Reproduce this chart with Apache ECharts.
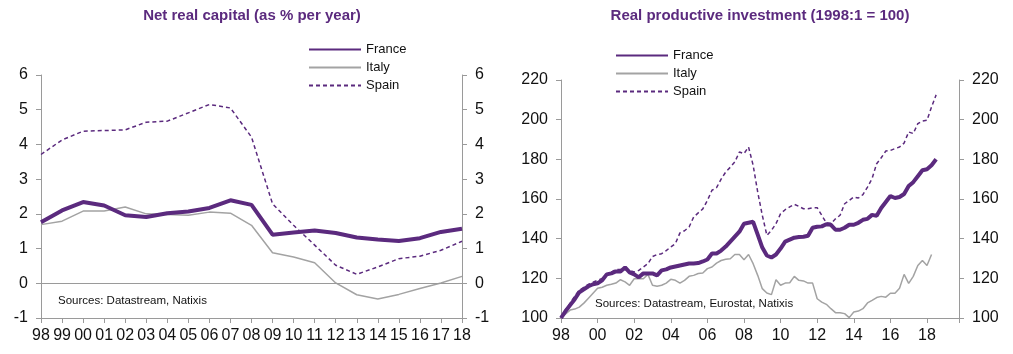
<!DOCTYPE html>
<html>
<head>
<meta charset="utf-8">
<script src="https://cdn.jsdelivr.net/npm/echarts@6/dist/echarts.min.js"></script>
<style>
  html, body { margin: 0; padding: 0; background: #fff; }
  #chart { width: 1013px; height: 354px; }
</style>
</head>
<body>
<div id="chart"></div>
<script>
// left panel: yearly, % per year
const yearsLeft = ['98', '99', '00', '01', '02', '03', '04', '05', '06', '07', '08', '09', '10', '11', '12', '13', '14', '15', '16', '17', '18'];
const franceNet = [1.76, 2.10, 2.34, 2.24, 1.96, 1.91, 2.02, 2.07, 2.17, 2.39, 2.26, 1.40, 1.46, 1.52, 1.45, 1.32, 1.26, 1.22, 1.30, 1.48, 1.57];
const italyNet = [1.69, 1.79, 2.08, 2.08, 2.20, 2.00, 1.98, 1.96, 2.05, 2.02, 1.67, 0.88, 0.76, 0.59, 0.01, -0.33, -0.45, -0.32, -0.15, 0.01, 0.20];
const spainNet = [3.71, 4.13, 4.38, 4.40, 4.42, 4.64, 4.67, 4.91, 5.15, 5.05, 4.21, 2.29, 1.67, 1.10, 0.52, 0.26, 0.47, 0.71, 0.78, 0.95, 1.21];

// right panel: quarterly from 1998Q1, index 1998:1 = 100
const startYear = 1998;
const franceInv = [
  100, 103.5, 106.5, 109.5, 113, 114.5, 116, 117, 117.5, 119, 122, 122.5,
  123.5, 123.5, 125.5, 123, 122, 120.5, 122.5, 122.5, 122.5, 121.5, 124, 124.5,
  125.5, 126, 126.5, 127, 127.5, 127.5, 127.7, 128.5, 129.5, 132.5, 132.5, 134,
  136, 138.5, 141, 143.5, 147.5, 148, 148.5, 142, 135.5, 131.5, 130.5, 132,
  135, 138.5, 139.5, 140.5, 140.8, 141, 141.5, 145.5, 146, 146.2, 147.3, 147,
  144.5, 144.5, 145.5, 147, 147, 148, 149.5, 150, 152, 151.5, 155.5, 158.5,
  161.5, 160.5, 161, 162.5, 166.5, 168.5, 171.5, 174.5, 175, 177, 180
];
const italyInv = [
  100, 102, 104, 104.5, 105.5, 107.5, 110, 112.5, 115, 115.5, 116.5, 117,
  117.6, 119.3, 118.2, 116.5, 119.8, 119.8, 119.8, 122, 116.5, 116, 116.5, 117.6,
  119.5, 119, 117.6, 119, 121, 121.5, 122.4, 122.7, 124.9, 125.7, 127.7, 129,
  129.6, 129.9, 132, 132, 129.4, 132, 127.4, 121.5, 114.8, 112.6, 111.8, 119.3,
  116.5, 117.6, 117.8, 121, 119, 118.7, 117.6, 117.6, 109.7, 108, 106.9, 104.7,
  102.7, 102.7, 102.2, 100.2, 103, 103.5, 104.7, 107.6, 108.9, 110.3, 110.9, 110.5,
  112.5, 112.5, 115, 122, 117.5, 121, 126.5, 129, 126.5, 132
];
const spainInv = [
  100, 104, 107.5, 111, 114, 115.5, 117, 118, 119, 120, 121.5, 123,
  124.5, 124.5, 124.4, 124, 123.2, 124, 125.7, 127.4, 131, 132, 132.4, 134,
  135.8, 137.5, 142.9, 144, 145.9, 150.9, 153, 155, 159.3, 164.4, 165.7, 170,
  173.6, 176, 178.7, 183.7, 182.9, 186.2, 177, 163.5, 151.8, 141.7, 144.2, 147.6,
  152.6, 154.6, 156, 157.3, 156.3, 155.1, 155.1, 155.6, 155.6, 151.8, 147.9, 147.6,
  150, 151.8, 157.6, 159.3, 161, 160.5, 162.2, 166, 170.3, 177.8, 180.8, 184.2,
  184.5, 185.4, 186.2, 188.2, 193.8, 193, 198, 199.3, 199.7, 206.4, 212.5
];

const purple = '#5b2a7e';
const grey = '#a3a3a3';
const axisGrey = '#9a9a9a';
const font = 'Liberation Sans, Arial, sans-serif';

const quarterly = arr => arr.map((v, i) => [startYear + i / 4, v]);

const chart = echarts.init(document.getElementById('chart'));

const yAxisBase = {
  type: 'value',
  axisLine: { show: true, lineStyle: { color: axisGrey, width: 1 } },
  axisTick: { show: true, length: 5, lineStyle: { color: axisGrey } },
  splitLine: { show: false },
  axisLabel: { color: '#111', fontSize: 16, fontFamily: font, margin: 13 }
};

const legendBase = {
  orient: 'vertical',
  itemWidth: 52,
  itemHeight: 14,
  itemGap: 5,
  selectedMode: false,
  itemStyle: { opacity: 0 },
  textStyle: { color: '#111', fontSize: 13, fontFamily: font },
  data: ['France', 'Italy', 'Spain']
};

chart.setOption({
  animation: false,
  title: [
    {
      text: 'Net real capital (as % per year)',
      left: 247, top: 3, textAlign: 'center',
      textStyle: { color: purple, fontSize: 15, fontWeight: 'bold', fontFamily: font }
    },
    {
      text: 'Real productive investment (1998:1 = 100)',
      left: 755, top: 3, textAlign: 'center',
      textStyle: { color: purple, fontSize: 15, fontWeight: 'bold', fontFamily: font }
    }
  ],
  legend: [
    Object.assign({ left: 303, top: 38 }, legendBase),
    Object.assign({ left: 610, top: 44 }, legendBase)
  ],
  graphic: [
    {
      type: 'text', left: 58, top: 295,
      style: { text: 'Sources: Datastream, Natixis', fill: '#111', fontSize: 11.5, fontFamily: font }
    },
    {
      type: 'text', left: 595, top: 298,
      style: { text: 'Sources: Datastream, Eurostat, Natixis', fill: '#111', fontSize: 11.5, fontFamily: font }
    }
  ],
  grid: [
    { left: 41, right: 551, top: 75, bottom: 36 },
    { left: 561, right: 54, top: 80, bottom: 36 }
  ],
  xAxis: [
    {
      gridIndex: 0,
      type: 'category',
      data: yearsLeft,
      boundaryGap: false,
      axisLine: { onZero: false, lineStyle: { color: axisGrey } },
      axisTick: { show: true, length: 5, interval: 0, lineStyle: { color: axisGrey } },
      axisLabel: { interval: 0, color: '#111', fontSize: 16, fontFamily: font, margin: 10 }
    },
    {
      gridIndex: 1,
      type: 'value',
      min: 1998,
      max: 2019.75,
      interval: 2,
      axisLine: { onZero: false, lineStyle: { color: axisGrey } },
      axisTick: { show: true, length: 5, lineStyle: { color: axisGrey } },
      splitLine: { show: false },
      axisLabel: {
        color: '#111', fontSize: 16, fontFamily: font, margin: 10,
        formatter: v => (v % 2 === 0 ? String(v).slice(2) : '')
      }
    }
  ],
  yAxis: [
    Object.assign({}, yAxisBase, { gridIndex: 0, position: 'left', min: -1, max: 6, interval: 1 }),
    Object.assign({}, yAxisBase, { gridIndex: 0, position: 'right', min: -1, max: 6, interval: 1 }),
    Object.assign({}, yAxisBase, { gridIndex: 1, position: 'left', min: 100, max: 220, interval: 20 }),
    Object.assign({}, yAxisBase, { gridIndex: 1, position: 'right', min: 100, max: 220, interval: 20 })
  ],
  series: [
    {
      name: 'Italy', type: 'line', xAxisIndex: 0, yAxisIndex: 0,
      data: italyNet, symbol: 'none',
      lineStyle: { color: grey, width: 1.5 }, itemStyle: { color: grey },
      markLine: {
        silent: true, symbol: 'none', label: { show: false },
        lineStyle: { color: axisGrey, width: 1, type: 'solid' },
        data: [{ yAxis: 0 }]
      }
    },
    {
      name: 'Spain', type: 'line', xAxisIndex: 0, yAxisIndex: 0,
      data: spainNet, symbol: 'none',
      lineStyle: { color: purple, width: 1.5, type: [4, 3] }, itemStyle: { color: purple }
    },
    {
      name: 'France', type: 'line', xAxisIndex: 0, yAxisIndex: 0,
      data: franceNet, symbol: 'none',
      lineStyle: { color: purple, width: 4 }, itemStyle: { color: purple }
    },
    {
      name: 'Italy', type: 'line', xAxisIndex: 1, yAxisIndex: 2,
      data: quarterly(italyInv), symbol: 'none',
      lineStyle: { color: grey, width: 1.5 }, itemStyle: { color: grey }
    },
    {
      name: 'Spain', type: 'line', xAxisIndex: 1, yAxisIndex: 2,
      data: quarterly(spainInv), symbol: 'none',
      lineStyle: { color: purple, width: 1.5, type: [4, 3] }, itemStyle: { color: purple }
    },
    {
      name: 'France', type: 'line', xAxisIndex: 1, yAxisIndex: 2,
      data: quarterly(franceInv), symbol: 'none',
      lineStyle: { color: purple, width: 4 }, itemStyle: { color: purple }
    }
  ]
});
</script>
</body>
</html>
